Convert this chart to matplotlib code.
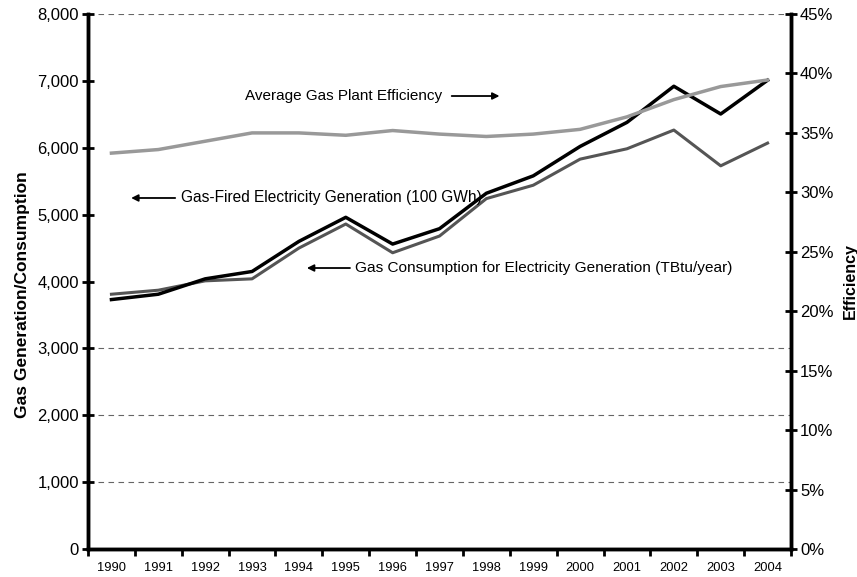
import matplotlib
matplotlib.use("Agg")
import matplotlib.pyplot as plt
import numpy as np
from matplotlib.ticker import FuncFormatter, FixedLocator

plt.rcParams['font.family'] = ['Liberation Sans', 'DejaVu Sans']

years = [str(y) for y in range(1990, 2005)]
generation = [3730, 3810, 4040, 4150, 4600, 4960, 4560, 4790, 5320, 5580,
              6020, 6380, 6920, 6505, 7010]
consumption = [3810, 3870, 4010, 4040, 4500, 4860, 4430, 4680, 5240, 5440,
               5830, 5985, 6265, 5730, 6070]
efficiency = [33.3, 33.6, 34.3, 35.0, 35.0, 34.8, 35.2, 34.9, 34.7, 34.9,
              35.3, 36.35, 37.8, 38.9, 39.45]
grid_levels = [1000, 2000, 3000, 8000]

x = np.arange(len(years))

fig = plt.figure(figsize=(8.57, 5.77), dpi=100)
ax = fig.add_axes([0.1027, 0.0485, 0.8203, 0.9272])
ax2 = ax.twinx()

for g in grid_levels:
    ax.axhline(g, color='#666666', lw=0.8, ls=(0, (5, 4)), zorder=0)

ax.plot(x, consumption, color='#555555', lw=2.2, zorder=3)
ax.plot(x, generation, color='black', lw=2.5, zorder=4)
ax2.plot(x, efficiency, color='#999999', lw=2.5, zorder=3)

ax.set_xlim(-0.5, len(years) - 0.5)
ax.set_ylim(0, 8000)
ax2.set_ylim(0, 45)

ax.yaxis.set_major_locator(FixedLocator(np.arange(0, 8001, 1000)))
ax.yaxis.set_major_formatter(FuncFormatter(lambda v, p: f"{int(v):,}"))
ax2.yaxis.set_major_locator(FixedLocator(np.arange(0, 46, 5)))
ax2.yaxis.set_major_formatter(FuncFormatter(lambda v, p: f"{int(v)}%"))

# category ticks sit between the years, labels at the centres
ax.xaxis.set_major_locator(FixedLocator(np.arange(-0.5, len(years), 1.0)))
ax.xaxis.set_major_formatter(FuncFormatter(lambda v, p: ""))
ax.set_xticks(x, minor=True)
ax.set_xticklabels(years, minor=True, fontsize=9.3)
ax.tick_params(axis='x', which='minor', length=0, pad=9)
ax.tick_params(axis='x', which='major', direction='out', length=5, width=2)
ax.tick_params(axis='y', direction='inout', length=9, width=2, labelsize=12, pad=2)
ax2.tick_params(axis='y', direction='inout', length=9, width=2, labelsize=12, pad=2)

for a in (ax, ax2):
    a.spines['top'].set_visible(False)
    for s in ('left', 'right', 'bottom'):
        a.spines[s].set_linewidth(2.5)

ax.set_ylabel("Gas Generation/Consumption", fontsize=12.5, fontweight='bold')
ax.yaxis.set_label_coords(-0.082, 0.475)
ax2.set_ylabel("Efficiency", fontsize=11.5, fontweight='bold', labelpad=7, rotation=90)

arrow = dict(arrowstyle='-|>', color='black', lw=1.3, mutation_scale=10, shrinkA=0, shrinkB=0)

ax.text(2.85, 6774, "Average Gas Plant Efficiency", fontsize=11, va='center', ha='left')
ax.annotate("", xy=(8.28, 6774), xytext=(7.26, 6774), arrowprops=arrow)

ax.text(1.48, 5249, "Gas-Fired Electricity Generation (100 GWh)", fontsize=11.2, va='center', ha='left')
ax.annotate("", xy=(0.42, 5249), xytext=(1.36, 5249), arrowprops=arrow)

ax.text(5.19, 4202, "Gas Consumption for Electricity Generation (TBtu/year)", fontsize=11.1,
        va='center', ha='left')
ax.annotate("", xy=(4.17, 4202), xytext=(5.09, 4202), arrowprops=arrow)

fig.savefig("out.png", dpi=100)
